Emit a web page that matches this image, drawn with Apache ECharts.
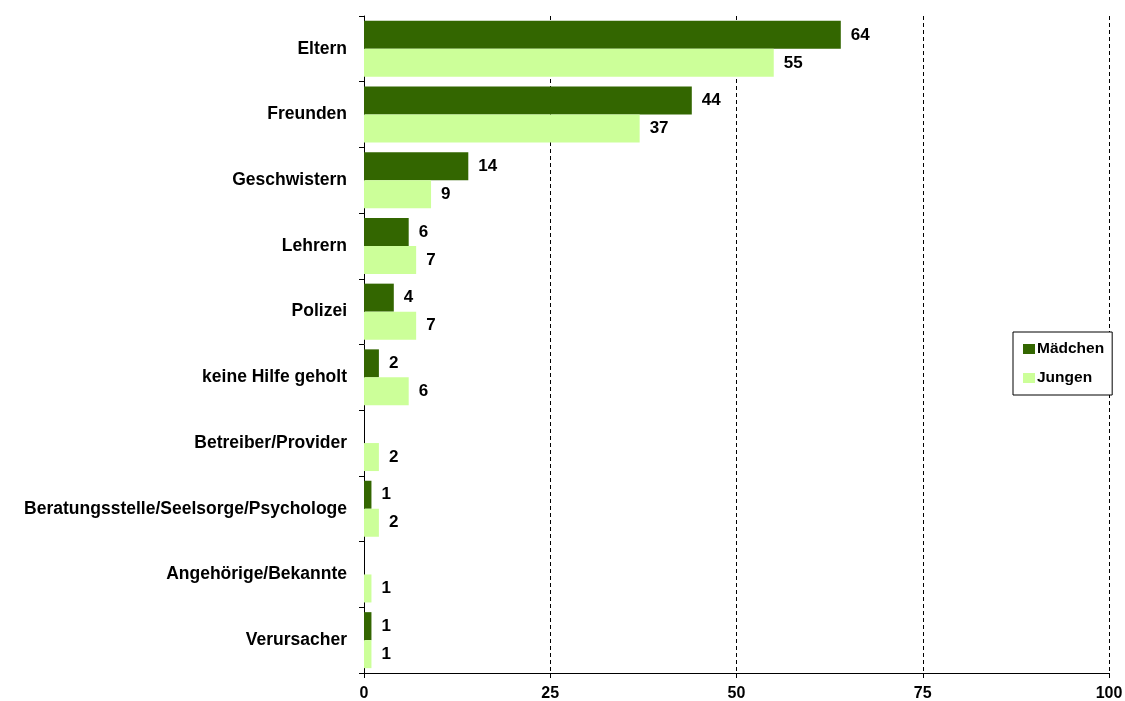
<!DOCTYPE html>
<html>
<head>
<meta charset="utf-8">
<script src="https://cdn.jsdelivr.net/npm/echarts@6/dist/echarts.min.js"></script>
<style>
	html,body{margin:0;padding:0;background:#fff;}
	#chart{width:1125px;height:701px;}
</style>
</head>
<body>
<div id="chart"></div>
<script>
// Kategorien (von oben nach unten)
var categories = ['Eltern', 'Freunden', 'Geschwistern', 'Lehrern', 'Polizei', 'keine Hilfe geholt',
	'Betreiber/Provider', 'Beratungsstelle/Seelsorge/Psychologe', 'Angehörige/Bekannte', 'Verursacher'];
var maedchen = [64, 44, 14, 6, 4, 2, 0, 1, 0, 1];
var jungen = [55, 37, 9, 7, 7, 6, 2, 2, 1, 1];
var xTicks = [0, 25, 50, 75, 100];

var chart = echarts.init(document.getElementById('chart'));

var fontFam = '"Liberation Sans", Arial, sans-serif';
var valLabel = {
	show: true,
	position: 'right',
	distance: 10,
	color: '#000',
	fontWeight: 'bold',
	fontSize: 17,
	fontFamily: fontFam,
	formatter: function (p) { return p.value === 0 ? '' : p.value; } // 0 wird nicht beschriftet
};

chart.setOption({
	animation: false,
	grid: {left: 364, right: 16, top: 16, bottom: 28, outerBoundsMode: 'none'},
	legend: {
		orient: 'vertical',
		left: 1013,
		top: 332,
		data: ['Mädchen', 'Jungen'],
		backgroundColor: '#fff',
		borderColor: '#000',
		borderWidth: 1,
		borderRadius: 0,
		padding: [9, 8, 9, 10],
		itemGap: 13,
		itemWidth: 12,
		itemHeight: 10,
		icon: 'rect',
		textStyle: {fontWeight: 'bold', fontSize: 15.5, color: '#000', fontFamily: fontFam, padding: [0, 0, 0, -3]}
	},
	xAxis: {
		type: 'value',
		min: xTicks[0],
		max: xTicks[xTicks.length - 1],
		interval: 25,
		axisLine: {show: true, lineStyle: {color: '#000', width: 1}},
		axisTick: {show: true, length: 5, lineStyle: {color: '#000'}},
		axisLabel: {color: '#000', fontWeight: 'bold', fontSize: 16, fontFamily: fontFam, margin: 13},
		splitLine: {show: true, lineStyle: {color: '#000', type: [4, 3], width: 1}}
	},
	yAxis: {
		type: 'category',
		data: categories,
		inverse: true,
		axisLine: {show: true, lineStyle: {color: '#000', width: 1}},
		axisTick: {show: true, length: 5, lineStyle: {color: '#000'}},
		axisLabel: {color: '#000', fontWeight: 'bold', fontSize: 17.5, fontFamily: fontFam, margin: 17}
	},
	series: [
		{
			name: 'Mädchen',
			type: 'bar',
			data: maedchen,
			barWidth: 28,
			barGap: '0%',
			itemStyle: {color: '#336600'},
			label: valLabel
		},
		{
			name: 'Jungen',
			type: 'bar',
			data: jungen,
			barWidth: 28,
			barGap: '0%',
			itemStyle: {color: '#CCFF99'},
			label: valLabel
		}
	]
});
</script>
</body>
</html>
